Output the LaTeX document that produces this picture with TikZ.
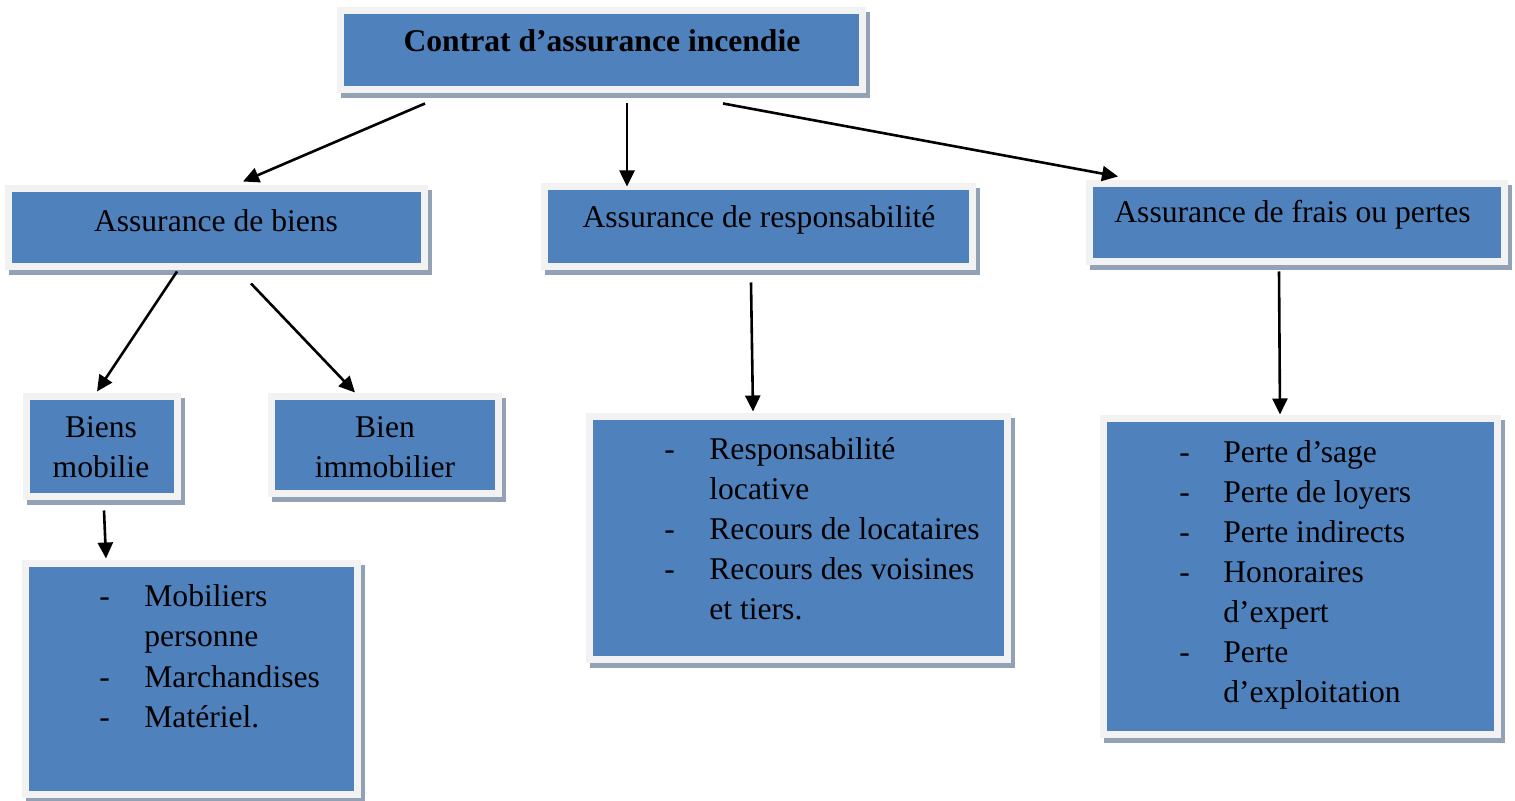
\documentclass[tikz,border=0pt]{standalone}
\usepackage{fontspec}
\setmainfont{Liberation Serif}
\usetikzlibrary{arrows.meta,calc}
\definecolor{boxblue}{HTML}{4F81BD}
\definecolor{boxframe}{HTML}{F2F2F2}
\definecolor{boxshade}{HTML}{93A1B4}
\begin{document}
\begin{tikzpicture}[x=0.5pt,y=-0.5pt,
  font=\fontsize{15.8}{20}\selectfont,
  panel/.style={draw=boxframe, fill=boxblue, line width=3.5pt, inner sep=0pt,
    preaction={draw=boxshade, fill=boxshade, line width=3.5pt,
      transform canvas={shift={(2pt,-2.5pt)}}}},
  conn/.style={line width=1.3pt, -{Triangle[length=8pt,width=7.5pt]}},
  caption/.style={anchor=base, inner sep=0pt, align=center},
  itemlist/.style={anchor=base west, inner sep=0pt}]
\useasboundingbox (0,0) rectangle (1515,801);

% boxes (frame drawn on the border, shadow behind)
\node[panel, minimum width=261pt, minimum height=39.5pt] (top)   at (601.5,50) {};
\node[panel, minimum width=208pt, minimum height=39pt]   (biens) at (216.5,227.5) {};
\node[panel, minimum width=214pt, minimum height=40pt]   (resp)  at (758.5,226.5) {};
\node[panel, minimum width=207.5pt, minimum height=39pt] (frais) at (1297,222.5) {};
\node[panel, minimum width=75.5pt, minimum height=50pt]  (mob)   at (102,446.5) {};
\node[panel, minimum width=113.5pt, minimum height=48.5pt] (immob) at (385,445) {};
\node[panel, minimum width=166pt, minimum height=115.5pt] (moblist)  at (191.5,679) {};
\node[panel, minimum width=209pt, minimum height=121.5pt] (resplist) at (798.5,538) {};
\node[panel, minimum width=197pt, minimum height=158pt]   (pertelist) at (1300.5,576.5) {};

% titles (base = baseline of the last line)
\node[caption] (ttop)   at (602,52)  {\bfseries Contrat d’assurance incendie};
\node[caption] (tbiens) at (216,232) {Assurance de biens};
\node[caption] (tresp)  at (759,228) {Assurance de responsabilité};
\node[caption] (tfrais) at (1292.5,223) {Assurance de frais ou pertes};
\node[caption] (tmob)   at (101,478) {Biens\\mobilie};
\node[caption] (timmob) at (385,478) {Bien\\immobilier};

% item lists
\node[itemlist] (lmob) at (99,607) {\begin{tabular}[t]{@{}p{22.5pt}@{}l@{}}
 - & Mobiliers\\
   & personne\\
 - & Marchandises\\
 - & Matériel.
\end{tabular}};
\node[itemlist] (lresp) at (664,460) {\begin{tabular}[t]{@{}p{22.5pt}@{}l@{}}
 - & Responsabilité\\
   & locative\\
 - & Recours de locataires\\
 - & Recours des voisines\\
   & et tiers.
\end{tabular}};
\node[itemlist] (lperte) at (1179,463) {\begin{tabular}[t]{@{}p{22pt}@{}l@{}}
 - & Perte d’sage\\
 - & Perte de loyers\\
 - & Perte indirects\\
 - & Honoraires\\
   & d’expert\\
 - & Perte\\
   & d’exploitation
\end{tabular}};

% connectors
\draw[conn] ($(top.south)+(-176.5,10.5)$) -- ($(biens.north)+(26.5,-3.5)$);
\draw[conn] ($(top.south)+(25.5,10.5)$)   -- ($(resp.north)+(-131.5,3.5)$);
\draw[conn] ($(top.south)+(121.5,10.5)$)  -- ($(frais.north)+(-179,-3.5)$);
\draw[conn] ($(biens.south)+(-39.5,1.5)$) -- ($(mob.north)+(-5,-1.5)$);
\draw[conn] ($(biens.south)+(34.5,13.5)$) -- ($(immob.north)+(-30,-0.5)$);
\draw[conn] ($(mob.south)+(2,10.5)$)      -- ($(moblist.north)+(-85.5,-1.5)$);
\draw[conn] ($(resp.south)+(-7.5,12.5)$)  -- ($(resplist.north)+(-45.5,-1.5)$);
\draw[conn] ($(frais.south)+(-18,6.5)$)   -- ($(pertelist.north)+(-20.5,-0.5)$);
\end{tikzpicture}
\end{document}
